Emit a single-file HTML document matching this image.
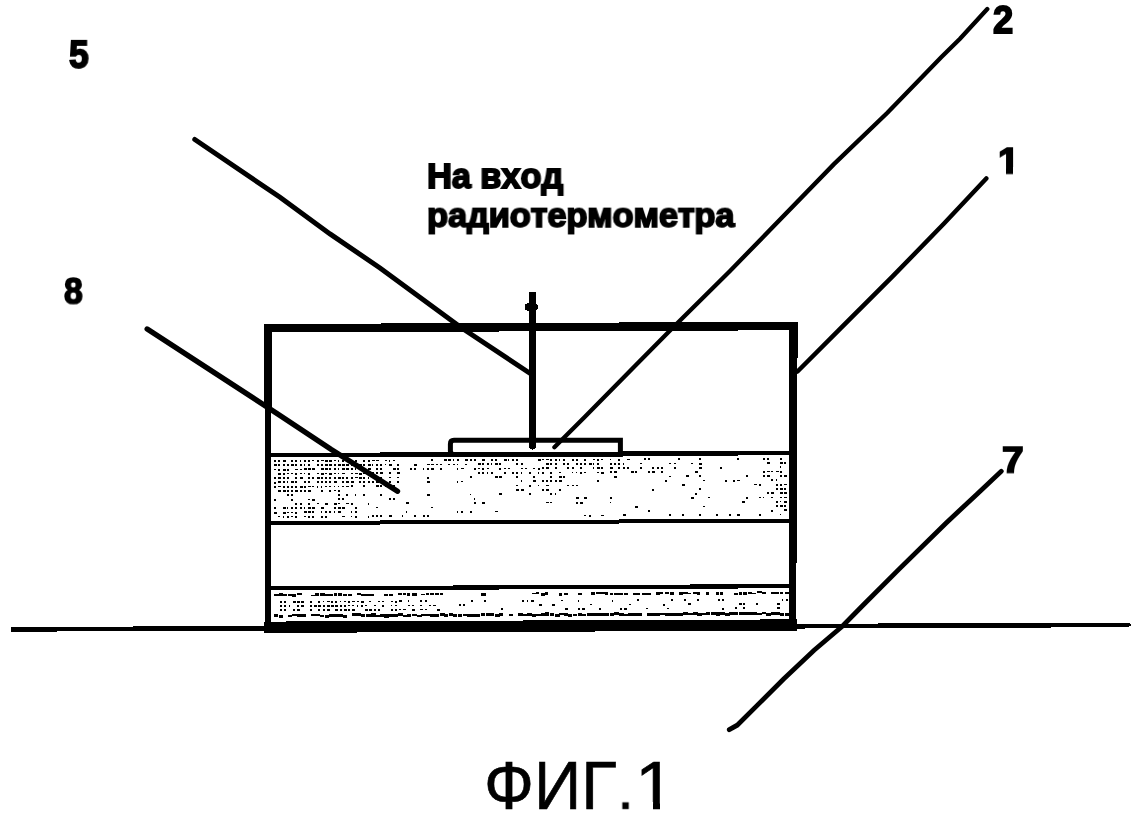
<!DOCTYPE html>
<html lang="ru"><head><meta charset="utf-8"><title>ФИГ.1</title>
<style>
html,body{margin:0;padding:0;background:#fff}
body{font-kerning:none;width:1144px;height:819px;overflow:hidden;position:relative;font-family:"Liberation Sans",sans-serif;color:#000}
svg{position:absolute;left:0;top:0;display:block}
.t{position:absolute;white-space:nowrap;line-height:1;margin:0;transform-origin:0 0;will-change:transform}
.b{font-weight:bold}
.cv{position:absolute;background:#fff}
</style></head><body>
<svg width="1144" height="819" viewBox="0 0 1144 819" fill="#000" shape-rendering="crispEdges">
<polygon points="264,324.00 797.5,321.76 797.5,330.26 264,332.50"/>
<polygon points="264,324 272,324 272,400 271,420 271,632 265,632 265,420 264.3,400"/>
<polygon points="789.2,322 797.7,322 796.2,630 789,630"/>
<polygon points="264,621.60 797,619.36 797,630.66 264,632.90"/>
<polygon points="268,452.98 793,450.78 793,455.28 268,457.48"/>
<polygon points="268,520.98 793,518.78 793,522.78 268,524.98"/>
<polygon points="268,586.28 793,584.08 793,588.28 268,590.48"/>
<polygon points="10.5,627.0 1128,622.5 1132,624.8 1128,627.2 10.5,631.7"/>
<path d="M454,440.3 H620.4 V454.5 H454 Q450.4,454.5 450.4,451 V444 Q450.4,440.3 454,440.3 Z" fill="none" stroke="#000" stroke-width="5" shape-rendering="geometricPrecision"/>
<polygon points="529.3,292 535.8,292 535.8,303 538,305 538,309 535.8,311 535.8,448 532.5,450 529.3,448 529.3,311 525,310 525,304 529.3,303"/>
<polyline points="194.8,139.5 280,197.3 330,233.9 380,268 461,327.5 529.5,373" fill="none" stroke="#000" stroke-width="5.0" stroke-linecap="round" shape-rendering="geometricPrecision"/>
<polyline points="147.2,329 280,415.4 331.3,449.6 397.5,491.2" fill="none" stroke="#000" stroke-width="5.4" stroke-linecap="round" shape-rendering="geometricPrecision"/>
<polyline points="554.4,447.2 583.7,417.9 637.9,362.9 674,326.5 730,271 833.7,164.4 887.4,112.8 941.2,57.2 960,38.8 987.3,9" fill="none" stroke="#000" stroke-width="4.3" stroke-linecap="round" shape-rendering="geometricPrecision"/>
<polyline points="797.5,371.5 841.3,327.7 892.6,276.4 943.8,223.8 986.3,178.5" fill="none" stroke="#000" stroke-width="4.5" stroke-linecap="round" shape-rendering="geometricPrecision"/>
<polyline points="729.3,729.7 737.2,725.2 757.7,704.9 783.4,679.2 814.1,650.2 842.6,626 862,606.3 899.1,569.1 945.9,523.2 977.2,493.9 1001.3,471.3" fill="none" stroke="#000" stroke-width="4.8" stroke-linecap="round" shape-rendering="geometricPrecision"/>
<path d="M274.0,460.0h2.0v1.8h-2.0zM278.2,459.9h1.6v2.0h-1.6zM282.5,459.9h3.2v1.6h-3.2zM291.0,459.9h1.6v1.8h-1.6zM295.2,459.9h2.0v1.6h-2.0zM299.5,459.9h1.6v2.0h-1.6zM303.8,459.8h2.0v2.0h-2.0zM308.0,459.8h1.6v2.0h-1.6zM312.2,459.8h1.6v1.6h-1.6zM316.5,459.8h2.0v1.8h-2.0zM320.8,459.8h3.2v1.6h-3.2zM325.0,459.7h3.2v2.0h-3.2zM329.2,459.7h3.2v2.0h-3.2zM333.5,459.7h2.2v1.6h-2.2zM337.8,459.7h1.6v2.0h-1.6zM342.0,459.7h2.0v1.8h-2.0zM346.2,459.7h2.6v1.8h-2.6zM350.5,459.6h2.6v1.8h-2.6zM354.8,459.6h2.0v2.0h-2.0zM363.2,459.6h2.2v2.0h-2.2zM367.5,459.6h2.2v2.0h-2.2zM371.8,459.5h3.2v1.6h-3.2zM376.0,459.5h2.6v1.6h-2.6zM384.5,459.5h2.6v1.8h-2.6zM388.8,459.5h1.6v2.0h-1.6zM393.0,459.5h2.2v1.8h-2.2zM431.2,459.3h2.2v2.0h-2.2zM444.0,459.2h2.6v2.0h-2.6zM448.2,459.2h2.6v1.8h-2.6zM452.5,459.2h1.6v1.8h-1.6zM456.8,459.2h2.2v1.6h-2.2zM465.2,459.2h2.6v1.6h-2.6zM469.5,459.1h2.6v2.0h-2.6zM473.8,459.1h2.0v1.8h-2.0zM482.2,459.1h2.6v1.8h-2.6zM490.8,459.0h2.0v1.6h-2.0zM495.0,459.0h2.0v1.6h-2.0zM503.5,459.0h3.2v1.6h-3.2zM507.8,459.0h1.6v1.6h-1.6zM512.0,459.0h2.2v2.0h-2.2zM516.2,458.9h2.0v2.0h-2.0zM537.5,458.9h3.2v1.8h-3.2zM541.8,458.8h2.6v1.6h-2.6zM546.0,458.8h2.6v1.6h-2.6zM550.2,458.8h2.0v1.8h-2.0zM554.5,458.8h2.2v2.0h-2.2zM558.8,458.8h1.6v2.0h-1.6zM563.0,458.7h1.6v1.8h-1.6zM571.5,458.7h2.0v2.0h-2.0zM575.8,458.7h2.2v1.8h-2.2zM584.2,458.7h1.6v1.8h-1.6zM592.8,458.6h2.6v1.8h-2.6zM597.0,458.6h1.6v2.0h-1.6zM601.2,458.6h2.2v1.8h-2.2zM609.8,458.5h1.6v1.6h-1.6zM618.2,458.5h2.0v2.0h-2.0zM626.8,458.5h3.2v1.8h-3.2zM643.8,458.4h2.2v1.6h-2.2zM648.0,458.4h2.0v2.0h-2.0zM677.8,458.3h2.0v1.8h-2.0zM699.0,458.2h1.6v1.8h-1.6zM737.2,458.0h1.6v1.6h-1.6zM762.8,457.9h2.2v2.0h-2.2zM767.0,457.9h1.6v1.8h-1.6zM779.8,457.8h2.0v1.8h-2.0zM274.0,464.3h2.6v1.8h-2.6zM278.2,464.2h1.6v2.0h-1.6zM282.5,464.2h2.0v1.6h-2.0zM286.8,464.2h2.6v2.0h-2.6zM291.0,464.2h3.2v1.8h-3.2zM295.2,464.2h2.2v1.6h-2.2zM299.5,464.2h2.0v1.6h-2.0zM303.8,464.1h1.6v2.0h-1.6zM308.0,464.1h2.0v1.8h-2.0zM316.5,464.1h2.0v1.6h-2.0zM320.8,464.1h2.2v2.0h-2.2zM325.0,464.0h3.2v1.8h-3.2zM329.2,464.0h2.6v1.6h-2.6zM333.5,464.0h2.2v1.8h-2.2zM337.8,464.0h3.2v1.8h-3.2zM342.0,464.0h3.2v1.6h-3.2zM346.2,464.0h3.2v2.0h-3.2zM350.5,463.9h2.6v1.6h-2.6zM354.8,463.9h2.0v1.6h-2.0zM359.0,463.9h3.2v2.0h-3.2zM363.2,463.9h1.6v1.8h-1.6zM367.5,463.9h3.2v2.0h-3.2zM371.8,463.8h1.6v2.0h-1.6zM376.0,463.8h2.0v1.8h-2.0zM380.2,463.8h1.6v2.0h-1.6zM384.5,463.8h1.6v1.6h-1.6zM388.8,463.8h3.2v2.0h-3.2zM397.2,463.7h2.2v1.8h-2.2zM414.2,463.7h3.2v1.8h-3.2zM427.0,463.6h2.6v1.6h-2.6zM431.2,463.6h2.6v1.8h-2.6zM435.5,463.6h2.0v1.8h-2.0zM439.8,463.6h2.2v1.6h-2.2zM448.2,463.5h2.2v1.6h-2.2zM452.5,463.5h2.0v1.8h-2.0zM456.8,463.5h1.6v1.8h-1.6zM465.2,463.5h2.0v1.6h-2.0zM478.0,463.4h2.6v1.6h-2.6zM482.2,463.4h1.6v2.0h-1.6zM486.5,463.4h2.2v2.0h-2.2zM490.8,463.3h1.6v1.8h-1.6zM495.0,463.3h3.2v1.8h-3.2zM499.2,463.3h1.6v1.6h-1.6zM516.2,463.2h2.2v1.8h-2.2zM520.5,463.2h2.0v1.8h-2.0zM546.0,463.1h3.2v2.0h-3.2zM550.2,463.1h2.2v1.6h-2.2zM554.5,463.1h2.0v1.8h-2.0zM563.0,463.0h1.6v2.0h-1.6zM567.2,463.0h2.2v1.6h-2.2zM575.8,463.0h2.2v1.6h-2.2zM580.0,463.0h2.2v2.0h-2.2zM584.2,463.0h2.2v2.0h-2.2zM588.5,462.9h3.2v2.0h-3.2zM592.8,462.9h1.6v1.6h-1.6zM597.0,462.9h2.0v1.6h-2.0zM609.8,462.8h2.0v1.8h-2.0zM614.0,462.8h2.0v1.8h-2.0zM618.2,462.8h1.6v1.8h-1.6zM622.5,462.8h1.6v2.0h-1.6zM639.5,462.7h2.6v1.6h-2.6zM669.2,462.6h2.0v1.6h-2.0zM673.5,462.6h2.0v1.8h-2.0zM690.5,462.5h2.2v1.8h-2.2zM699.0,462.5h2.6v2.0h-2.6zM767.0,462.2h2.6v1.6h-2.6zM779.8,462.1h3.2v1.6h-3.2zM784.0,462.1h1.6v1.6h-1.6zM274.0,468.6h1.6v1.8h-1.6zM278.2,468.5h2.2v2.0h-2.2zM282.5,468.5h3.2v2.0h-3.2zM286.8,468.5h2.0v2.0h-2.0zM295.2,468.5h3.2v1.8h-3.2zM299.5,468.5h2.6v1.6h-2.6zM303.8,468.4h3.2v2.0h-3.2zM308.0,468.4h3.2v2.0h-3.2zM312.2,468.4h3.2v1.6h-3.2zM320.8,468.4h3.2v1.6h-3.2zM325.0,468.3h3.2v2.0h-3.2zM329.2,468.3h2.0v1.6h-2.0zM333.5,468.3h2.0v2.0h-2.0zM337.8,468.3h1.6v1.8h-1.6zM342.0,468.3h3.2v1.6h-3.2zM346.2,468.3h3.2v2.0h-3.2zM350.5,468.2h2.2v1.6h-2.2zM354.8,468.2h1.6v2.0h-1.6zM367.5,468.2h3.2v1.6h-3.2zM376.0,468.1h1.6v1.8h-1.6zM380.2,468.1h2.0v1.6h-2.0zM393.0,468.1h2.6v1.6h-2.6zM397.2,468.0h2.2v1.6h-2.2zM410.0,468.0h2.0v1.8h-2.0zM414.2,468.0h2.2v2.0h-2.2zM422.8,467.9h1.6v1.8h-1.6zM427.0,467.9h1.6v2.0h-1.6zM431.2,467.9h2.6v1.8h-2.6zM439.8,467.9h2.6v1.8h-2.6zM456.8,467.8h1.6v1.8h-1.6zM461.0,467.8h2.6v1.6h-2.6zM473.8,467.7h2.2v1.8h-2.2zM478.0,467.7h2.0v1.6h-2.0zM482.2,467.7h2.0v2.0h-2.0zM486.5,467.7h2.2v1.6h-2.2zM499.2,467.6h1.6v2.0h-1.6zM503.5,467.6h2.6v1.8h-2.6zM507.8,467.6h2.0v1.6h-2.0zM520.5,467.5h2.0v1.8h-2.0zM524.8,467.5h2.2v1.6h-2.2zM533.2,467.5h2.2v1.8h-2.2zM537.5,467.5h2.0v2.0h-2.0zM541.8,467.4h2.2v1.8h-2.2zM546.0,467.4h2.6v1.8h-2.6zM554.5,467.4h2.2v1.8h-2.2zM567.2,467.3h1.6v2.0h-1.6zM571.5,467.3h2.0v1.6h-2.0zM580.0,467.3h2.2v1.6h-2.2zM592.8,467.2h1.6v2.0h-1.6zM597.0,467.2h3.2v2.0h-3.2zM601.2,467.2h1.6v1.6h-1.6zM609.8,467.1h3.2v1.6h-3.2zM618.2,467.1h1.6v2.0h-1.6zM622.5,467.1h2.6v1.8h-2.6zM626.8,467.1h2.2v1.8h-2.2zM639.5,467.0h2.0v1.8h-2.0zM652.2,467.0h2.0v1.6h-2.0zM656.5,467.0h2.6v2.0h-2.6zM660.8,466.9h2.2v1.8h-2.2zM673.5,466.9h2.0v1.8h-2.0zM699.0,466.8h2.6v1.8h-2.6zM720.2,466.7h2.2v2.0h-2.2zM779.8,466.4h1.6v1.8h-1.6zM278.2,472.8h3.2v1.8h-3.2zM282.5,472.8h2.6v2.0h-2.6zM286.8,472.8h2.6v1.6h-2.6zM291.0,472.8h2.0v1.6h-2.0zM295.2,472.8h1.6v2.0h-1.6zM299.5,472.8h2.6v1.6h-2.6zM303.8,472.7h1.6v1.6h-1.6zM308.0,472.7h2.0v2.0h-2.0zM316.5,472.7h2.2v1.6h-2.2zM320.8,472.7h3.2v2.0h-3.2zM325.0,472.6h1.6v1.6h-1.6zM329.2,472.6h3.2v2.0h-3.2zM333.5,472.6h2.2v1.6h-2.2zM337.8,472.6h1.6v1.6h-1.6zM342.0,472.6h2.6v1.8h-2.6zM350.5,472.5h2.0v1.8h-2.0zM354.8,472.5h3.2v1.6h-3.2zM359.0,472.5h2.6v2.0h-2.6zM363.2,472.5h1.6v1.6h-1.6zM367.5,472.5h2.6v1.6h-2.6zM371.8,472.4h2.6v1.8h-2.6zM376.0,472.4h1.6v2.0h-1.6zM380.2,472.4h2.6v1.8h-2.6zM388.8,472.4h2.2v2.0h-2.2zM397.2,472.3h2.6v1.6h-2.6zM478.0,472.0h1.6v1.6h-1.6zM482.2,472.0h2.2v2.0h-2.2zM486.5,472.0h1.6v1.6h-1.6zM490.8,471.9h2.0v2.0h-2.0zM503.5,471.9h2.6v1.8h-2.6zM512.0,471.9h1.6v1.6h-1.6zM516.2,471.8h1.6v1.8h-1.6zM520.5,471.8h1.6v2.0h-1.6zM529.0,471.8h2.2v1.8h-2.2zM537.5,471.8h1.6v2.0h-1.6zM541.8,471.7h2.2v2.0h-2.2zM550.2,471.7h2.2v2.0h-2.2zM558.8,471.7h2.6v1.6h-2.6zM571.5,471.6h1.6v1.8h-1.6zM575.8,471.6h1.6v1.8h-1.6zM580.0,471.6h1.6v2.0h-1.6zM584.2,471.6h2.2v1.8h-2.2zM597.0,471.5h2.2v1.8h-2.2zM601.2,471.5h3.2v2.0h-3.2zM609.8,471.4h2.0v1.6h-2.0zM614.0,471.4h2.6v1.8h-2.6zM631.0,471.4h2.6v1.6h-2.6zM635.2,471.3h2.2v2.0h-2.2zM648.0,471.3h2.2v1.8h-2.2zM652.2,471.3h3.2v1.6h-3.2zM660.8,471.2h2.0v1.6h-2.0zM694.8,471.1h3.2v1.6h-3.2zM762.8,470.8h2.2v2.0h-2.2zM767.0,470.8h2.6v1.6h-2.6zM771.2,470.8h2.0v1.6h-2.0zM775.5,470.8h3.2v1.6h-3.2zM779.8,470.7h2.6v1.8h-2.6zM274.0,477.2h2.0v2.0h-2.0zM278.2,477.1h2.6v1.6h-2.6zM282.5,477.1h2.6v1.6h-2.6zM286.8,477.1h2.2v1.6h-2.2zM295.2,477.1h1.6v1.6h-1.6zM299.5,477.1h3.2v1.6h-3.2zM308.0,477.0h2.0v1.8h-2.0zM312.2,477.0h1.6v1.6h-1.6zM316.5,477.0h3.2v1.8h-3.2zM320.8,477.0h2.2v1.8h-2.2zM325.0,476.9h2.0v1.8h-2.0zM329.2,476.9h2.0v1.6h-2.0zM333.5,476.9h2.6v2.0h-2.6zM337.8,476.9h3.2v1.8h-3.2zM342.0,476.9h1.6v1.8h-1.6zM346.2,476.9h1.6v1.8h-1.6zM350.5,476.8h2.6v2.0h-2.6zM354.8,476.8h3.2v1.6h-3.2zM359.0,476.8h2.6v2.0h-2.6zM363.2,476.8h2.2v2.0h-2.2zM367.5,476.8h1.6v1.8h-1.6zM380.2,476.7h1.6v1.8h-1.6zM388.8,476.7h2.6v1.6h-2.6zM397.2,476.6h2.0v1.8h-2.0zM427.0,476.5h2.0v2.0h-2.0zM469.5,476.3h2.6v1.8h-2.6zM495.0,476.2h2.6v1.8h-2.6zM499.2,476.2h2.6v1.6h-2.6zM516.2,476.1h2.0v2.0h-2.0zM533.2,476.1h2.0v1.6h-2.0zM550.2,476.0h2.0v2.0h-2.0zM558.8,476.0h3.2v2.0h-3.2zM563.0,475.9h2.2v1.6h-2.2zM614.0,475.7h2.6v1.8h-2.6zM669.2,475.5h2.0v1.6h-2.0zM686.2,475.4h3.2v1.8h-3.2zM699.0,475.4h1.6v2.0h-1.6zM745.8,475.2h2.2v2.0h-2.2zM762.8,475.1h2.6v1.6h-2.6zM767.0,475.1h2.6v1.6h-2.6zM779.8,475.0h2.2v1.6h-2.2zM784.0,475.0h2.6v1.6h-2.6zM274.0,481.5h2.2v2.0h-2.2zM278.2,481.4h2.6v1.6h-2.6zM282.5,481.4h2.2v1.6h-2.2zM286.8,481.4h1.6v2.0h-1.6zM291.0,481.4h2.6v2.0h-2.6zM295.2,481.4h1.6v1.8h-1.6zM303.8,481.3h2.6v2.0h-2.6zM308.0,481.3h2.2v1.8h-2.2zM316.5,481.3h2.2v1.8h-2.2zM320.8,481.3h2.6v1.6h-2.6zM325.0,481.2h1.6v1.8h-1.6zM329.2,481.2h2.2v1.8h-2.2zM333.5,481.2h3.2v2.0h-3.2zM342.0,481.2h1.6v1.6h-1.6zM346.2,481.2h3.2v2.0h-3.2zM350.5,481.1h3.2v1.8h-3.2zM359.0,481.1h2.0v2.0h-2.0zM363.2,481.1h1.6v1.6h-1.6zM367.5,481.1h2.2v1.8h-2.2zM371.8,481.0h2.2v2.0h-2.2zM376.0,481.0h3.2v1.8h-3.2zM380.2,481.0h2.0v1.8h-2.0zM388.8,481.0h2.0v1.6h-2.0zM397.2,480.9h2.0v1.8h-2.0zM427.0,480.8h3.2v1.8h-3.2zM456.8,480.7h1.6v2.0h-1.6zM461.0,480.7h2.0v1.6h-2.0zM520.5,480.4h1.6v2.0h-1.6zM533.2,480.4h2.6v2.0h-2.6zM541.8,480.3h2.6v1.6h-2.6zM546.0,480.3h1.6v1.8h-1.6zM550.2,480.3h1.6v1.6h-1.6zM554.5,480.3h2.2v2.0h-2.2zM558.8,480.3h3.2v2.0h-3.2zM597.0,480.1h2.2v1.6h-2.2zM665.0,479.8h1.6v1.8h-1.6zM703.2,479.7h1.6v1.6h-1.6zM724.5,479.6h2.0v2.0h-2.0zM733.0,479.5h1.6v2.0h-1.6zM737.2,479.5h3.2v1.8h-3.2zM771.2,479.4h2.0v1.6h-2.0zM775.5,479.4h1.6v1.6h-1.6zM274.0,485.8h1.6v2.0h-1.6zM278.2,485.7h2.6v1.6h-2.6zM282.5,485.7h2.0v1.8h-2.0zM286.8,485.7h2.6v1.8h-2.6zM291.0,485.7h2.2v1.8h-2.2zM295.2,485.7h2.2v1.8h-2.2zM299.5,485.7h3.2v2.0h-3.2zM303.8,485.6h2.2v2.0h-2.2zM308.0,485.6h2.6v1.6h-2.6zM312.2,485.6h1.6v1.8h-1.6zM316.5,485.6h1.6v2.0h-1.6zM320.8,485.6h1.6v2.0h-1.6zM325.0,485.5h2.0v1.8h-2.0zM329.2,485.5h2.0v1.8h-2.0zM333.5,485.5h1.6v1.6h-1.6zM337.8,485.5h1.6v1.8h-1.6zM342.0,485.5h2.0v1.8h-2.0zM346.2,485.5h3.2v1.8h-3.2zM350.5,485.4h2.0v1.8h-2.0zM363.2,485.4h2.0v1.6h-2.0zM376.0,485.3h3.2v1.6h-3.2zM380.2,485.3h2.2v1.6h-2.2zM384.5,485.3h2.6v2.0h-2.6zM388.8,485.3h1.6v1.8h-1.6zM393.0,485.3h2.2v1.8h-2.2zM516.2,484.7h2.0v1.6h-2.0zM529.0,484.7h2.0v1.8h-2.0zM537.5,484.7h1.6v1.6h-1.6zM546.0,484.6h2.6v1.6h-2.6zM567.2,484.5h1.6v1.8h-1.6zM571.5,484.5h2.6v1.8h-2.6zM575.8,484.5h2.6v1.8h-2.6zM682.0,484.0h2.6v1.6h-2.6zM754.2,483.7h3.2v1.6h-3.2zM758.5,483.7h2.0v2.0h-2.0zM775.5,483.7h2.6v2.0h-2.6zM779.8,483.6h2.2v2.0h-2.2zM784.0,483.6h2.6v1.6h-2.6zM278.2,490.0h3.2v1.6h-3.2zM282.5,490.0h3.2v1.8h-3.2zM286.8,490.0h2.2v1.8h-2.2zM291.0,490.0h1.6v1.6h-1.6zM295.2,490.0h2.6v2.0h-2.6zM299.5,490.0h2.2v2.0h-2.2zM303.8,489.9h2.0v1.8h-2.0zM308.0,489.9h3.2v1.6h-3.2zM320.8,489.9h2.0v1.6h-2.0zM329.2,489.8h2.0v1.8h-2.0zM333.5,489.8h2.0v1.6h-2.0zM337.8,489.8h2.6v1.8h-2.6zM516.2,489.0h2.6v2.0h-2.6zM520.5,489.0h3.2v1.6h-3.2zM541.8,488.9h2.0v2.0h-2.0zM546.0,488.9h2.6v2.0h-2.6zM558.8,488.9h2.0v1.6h-2.0zM652.2,488.5h1.6v2.0h-1.6zM699.0,488.3h2.2v1.8h-2.2zM775.5,488.0h2.2v2.0h-2.2zM779.8,487.9h3.2v2.0h-3.2zM784.0,487.9h1.6v1.8h-1.6zM286.8,494.3h2.2v1.6h-2.2zM291.0,494.3h2.0v1.8h-2.0zM337.8,494.1h2.6v2.0h-2.6zM346.2,494.1h2.0v1.6h-2.0zM354.8,494.0h1.6v1.8h-1.6zM363.2,494.0h2.2v2.0h-2.2zM380.2,493.9h1.6v1.8h-1.6zM427.0,493.7h2.6v2.0h-2.6zM469.5,493.5h1.6v1.6h-1.6zM499.2,493.4h3.2v1.6h-3.2zM529.0,493.3h1.6v1.8h-1.6zM550.2,493.2h1.6v2.0h-1.6zM554.5,493.2h1.6v1.6h-1.6zM694.8,492.6h2.0v2.0h-2.0zM767.0,492.3h2.0v2.0h-2.0zM771.2,492.3h3.2v2.0h-3.2zM779.8,492.2h3.2v1.6h-3.2zM784.0,492.2h2.6v1.8h-2.6zM274.0,498.7h2.0v1.8h-2.0zM291.0,498.6h2.2v2.0h-2.2zM308.0,498.5h2.2v1.6h-2.2zM312.2,498.5h3.2v2.0h-3.2zM337.8,498.4h2.0v1.6h-2.0zM342.0,498.4h2.2v1.8h-2.2zM388.8,498.2h2.2v2.0h-2.2zM393.0,498.2h2.2v2.0h-2.2zM473.8,497.8h1.6v2.0h-1.6zM575.8,497.4h3.2v1.6h-3.2zM584.2,497.4h3.2v2.0h-3.2zM609.8,497.2h2.0v2.0h-2.0zM690.5,496.9h3.2v1.8h-3.2zM707.5,496.8h2.6v1.6h-2.6zM745.8,496.7h2.6v2.0h-2.6zM758.5,496.6h2.6v1.8h-2.6zM762.8,496.6h1.6v1.8h-1.6zM771.2,496.6h2.0v1.8h-2.0zM779.8,496.5h2.6v1.6h-2.6zM784.0,496.5h3.2v1.6h-3.2zM295.2,502.9h2.0v1.8h-2.0zM299.5,502.9h2.2v1.6h-2.2zM308.0,502.8h2.2v1.8h-2.2zM316.5,502.8h2.2v1.6h-2.2zM325.0,502.7h3.2v1.8h-3.2zM333.5,502.7h3.2v1.8h-3.2zM337.8,502.7h2.6v1.6h-2.6zM346.2,502.7h3.2v1.6h-3.2zM350.5,502.6h2.0v2.0h-2.0zM367.5,502.6h1.6v2.0h-1.6zM405.8,502.4h3.2v1.8h-3.2zM473.8,502.1h2.2v2.0h-2.2zM482.2,502.1h3.2v1.8h-3.2zM546.0,501.8h3.2v1.6h-3.2zM550.2,501.8h1.6v1.6h-1.6zM575.8,501.7h2.0v1.8h-2.0zM580.0,501.7h3.2v2.0h-3.2zM609.8,501.5h1.6v1.8h-1.6zM741.5,501.0h3.2v1.6h-3.2zM775.5,500.9h2.6v1.6h-2.6zM779.8,500.8h1.6v1.6h-1.6zM784.0,500.8h2.6v1.8h-2.6zM274.0,507.3h1.6v1.6h-1.6zM282.5,507.2h3.2v1.8h-3.2zM286.8,507.2h1.6v2.0h-1.6zM291.0,507.2h1.6v2.0h-1.6zM295.2,507.2h2.0v1.6h-2.0zM299.5,507.2h2.2v1.8h-2.2zM303.8,507.1h1.6v1.6h-1.6zM308.0,507.1h3.2v1.8h-3.2zM312.2,507.1h3.2v2.0h-3.2zM320.8,507.1h3.2v1.6h-3.2zM333.5,507.0h2.2v1.6h-2.2zM337.8,507.0h3.2v1.8h-3.2zM342.0,507.0h3.2v2.0h-3.2zM354.8,506.9h2.2v1.8h-2.2zM376.0,506.8h2.2v1.6h-2.2zM431.2,506.6h1.6v1.6h-1.6zM635.2,505.7h2.6v1.8h-2.6zM703.2,505.5h1.6v1.8h-1.6zM775.5,505.2h2.2v2.0h-2.2zM779.8,505.1h3.2v2.0h-3.2zM784.0,505.1h2.0v1.8h-2.0zM274.0,511.6h2.6v2.0h-2.6zM282.5,511.5h3.2v2.0h-3.2zM286.8,511.5h2.0v1.8h-2.0zM291.0,511.5h1.6v1.8h-1.6zM295.2,511.5h1.6v2.0h-1.6zM303.8,511.4h3.2v1.8h-3.2zM308.0,511.4h3.2v1.8h-3.2zM312.2,511.4h2.0v2.0h-2.0zM320.8,511.4h1.6v2.0h-1.6zM325.0,511.3h1.6v1.8h-1.6zM329.2,511.3h1.6v2.0h-1.6zM333.5,511.3h1.6v1.8h-1.6zM337.8,511.3h3.2v1.6h-3.2zM350.5,511.2h1.6v2.0h-1.6zM354.8,511.2h2.0v1.8h-2.0zM405.8,511.0h1.6v1.6h-1.6zM456.8,510.8h1.6v2.0h-1.6zM461.0,510.8h2.0v1.8h-2.0zM469.5,510.7h2.0v1.8h-2.0zM495.0,510.6h3.2v1.6h-3.2zM648.0,510.0h1.6v1.8h-1.6zM771.2,509.5h1.6v2.0h-1.6zM784.0,509.4h2.6v1.6h-2.6zM278.2,515.8h2.2v1.6h-2.2zM282.5,515.8h1.6v2.0h-1.6zM286.8,515.8h2.0v1.8h-2.0zM291.0,515.8h1.6v1.6h-1.6zM295.2,515.8h2.2v2.0h-2.2zM303.8,515.7h2.2v1.6h-2.2zM308.0,515.7h2.0v2.0h-2.0zM312.2,515.7h2.2v1.8h-2.2zM320.8,515.7h2.0v1.8h-2.0zM325.0,515.6h2.2v2.0h-2.2zM342.0,515.6h2.6v1.6h-2.6zM350.5,515.5h1.6v1.6h-1.6zM354.8,515.5h2.2v2.0h-2.2zM367.5,515.5h1.6v2.0h-1.6zM371.8,515.4h2.0v1.8h-2.0zM376.0,515.4h1.6v2.0h-1.6zM380.2,515.4h2.0v2.0h-2.0zM388.8,515.4h3.2v1.8h-3.2zM401.5,515.3h1.6v1.6h-1.6zM414.2,515.3h1.6v2.0h-1.6zM422.8,515.2h2.0v2.0h-2.0zM427.0,515.2h2.2v1.6h-2.2zM584.2,514.6h2.2v1.6h-2.2zM588.5,514.5h2.6v2.0h-2.6zM601.2,514.5h2.6v1.6h-2.6zM622.5,514.4h3.2v1.6h-3.2zM669.2,514.2h2.2v1.6h-2.2zM682.0,514.1h2.2v1.8h-2.2zM699.0,514.1h2.2v1.8h-2.2zM716.0,514.0h1.6v1.8h-1.6zM728.8,513.9h2.2v2.0h-2.2zM737.2,513.9h2.6v1.8h-2.6zM758.5,513.8h2.2v2.0h-2.2zM779.8,513.7h1.6v1.6h-1.6zM274.0,593.7h4.6v2.2h-4.6zM278.6,593.2h4.6v2.6h-4.6zM283.2,593.8h4.0v2.6h-4.0zM287.8,593.5h4.0v2.2h-4.0zM292.4,594.3h4.0v2.2h-4.0zM297.0,593.4h4.6v1.8h-4.6zM310.8,594.5h4.0v1.8h-4.0zM315.4,593.0h4.0v2.6h-4.0zM320.0,592.9h4.6v2.6h-4.6zM324.6,593.8h4.0v1.8h-4.0zM329.2,594.3h4.0v1.8h-4.0zM333.8,593.2h3.0v2.6h-3.0zM338.4,593.3h4.0v2.6h-4.0zM343.0,593.8h4.0v1.8h-4.0zM347.6,593.7h4.6v1.8h-4.6zM356.8,592.8h4.0v2.6h-4.0zM361.4,593.5h4.6v2.6h-4.6zM366.0,593.7h4.6v1.8h-4.6zM370.6,593.8h3.0v2.6h-3.0zM384.4,593.9h4.0v1.8h-4.0zM389.0,593.5h4.0v2.2h-4.0zM398.2,592.6h4.0v2.6h-4.0zM402.8,592.5h3.0v2.6h-3.0zM407.4,593.0h3.0v2.6h-3.0zM412.0,592.9h4.6v2.6h-4.6zM421.2,593.5h4.0v1.8h-4.0zM425.8,593.0h3.0v1.8h-3.0zM430.4,593.0h4.0v1.8h-4.0zM435.0,593.4h4.0v1.8h-4.0zM439.6,593.4h3.0v1.8h-3.0zM481.0,592.9h4.6v2.6h-4.6zM531.6,592.5h4.6v1.8h-4.6zM536.2,592.3h3.0v1.8h-3.0zM540.8,593.2h4.0v2.6h-4.0zM545.4,592.0h3.0v2.6h-3.0zM559.2,593.0h3.0v2.6h-3.0zM563.8,593.1h4.6v2.2h-4.6zM577.6,592.6h4.6v2.2h-4.6zM591.4,592.1h4.0v2.6h-4.0zM596.0,591.8h4.6v2.6h-4.6zM600.6,592.1h4.0v2.2h-4.0zM605.2,592.2h3.0v2.6h-3.0zM609.8,593.1h3.0v1.8h-3.0zM614.4,593.0h4.6v2.2h-4.6zM619.0,592.7h4.0v1.8h-4.0zM623.6,592.6h4.0v2.6h-4.0zM632.8,593.0h4.0v2.2h-4.0zM637.4,593.0h3.0v1.8h-3.0zM642.0,592.6h4.6v2.6h-4.6zM646.6,592.9h4.6v2.2h-4.6zM655.8,592.1h4.0v2.6h-4.0zM660.4,592.2h3.0v1.8h-3.0zM665.0,592.0h4.0v1.8h-4.0zM669.6,592.3h4.0v2.2h-4.0zM678.8,592.3h4.0v2.2h-4.0zM683.4,592.3h4.6v1.8h-4.6zM688.0,592.6h3.0v1.8h-3.0zM692.6,591.5h4.0v2.2h-4.0zM697.2,591.9h3.0v2.6h-3.0zM706.4,592.4h3.0v2.6h-3.0zM715.6,591.9h3.0v2.6h-3.0zM720.2,592.4h3.0v2.2h-3.0zM734.0,592.6h4.0v2.2h-4.0zM738.6,592.2h3.0v2.6h-3.0zM743.2,592.0h4.0v2.6h-4.0zM747.8,592.1h4.0v2.2h-4.0zM752.4,592.5h4.0v1.8h-4.0zM757.0,591.3h4.6v1.8h-4.6zM761.6,591.7h4.0v2.2h-4.0zM770.8,591.7h4.0v1.8h-4.0zM775.4,591.6h4.0v2.6h-4.0zM780.0,592.0h3.0v1.8h-3.0zM784.6,591.8h4.0v2.2h-4.0zM274.0,614.0h4.0v3.4h-4.0zM278.6,614.8h4.6v3.0h-4.6zM287.8,614.7h4.0v2.4h-4.0zM292.4,613.8h4.6v2.4h-4.6zM297.0,613.7h5.0v3.4h-5.0zM301.6,614.1h4.0v2.4h-4.0zM310.8,613.8h5.0v2.4h-5.0zM315.4,613.7h4.6v2.4h-4.6zM320.0,614.6h4.0v2.4h-4.0zM324.6,614.6h4.0v3.0h-4.0zM329.2,614.2h4.6v3.0h-4.6zM333.8,614.4h4.0v3.0h-4.0zM338.4,614.4h5.0v3.0h-5.0zM343.0,614.5h4.0v3.0h-4.0zM352.2,613.3h5.0v3.0h-5.0zM356.8,613.4h4.0v3.0h-4.0zM361.4,614.2h4.0v2.4h-4.0zM366.0,613.8h5.0v3.0h-5.0zM370.6,613.2h5.0v3.4h-5.0zM375.2,614.5h4.6v2.4h-4.6zM379.8,614.2h5.0v3.0h-5.0zM384.4,614.3h4.6v3.4h-4.6zM389.0,613.8h4.6v3.0h-4.6zM393.6,614.1h4.0v2.4h-4.0zM398.2,613.2h5.0v3.0h-5.0zM402.8,614.6h5.0v2.4h-5.0zM407.4,614.1h4.0v2.4h-4.0zM412.0,613.6h5.0v2.4h-5.0zM416.6,614.5h5.0v2.4h-5.0zM421.2,614.0h4.6v2.4h-4.6zM425.8,613.8h4.6v2.4h-4.6zM430.4,614.2h4.6v3.0h-4.6zM435.0,614.0h4.0v3.0h-4.0zM439.6,612.7h5.0v3.4h-5.0zM444.2,613.9h4.0v3.4h-4.0zM448.8,613.4h4.6v3.0h-4.6zM453.4,613.8h4.0v3.4h-4.0zM458.0,613.8h4.0v3.0h-4.0zM462.6,613.5h4.6v2.4h-4.6zM467.2,614.0h4.6v3.0h-4.6zM471.8,613.6h4.6v3.4h-4.6zM476.4,614.0h4.0v3.0h-4.0zM481.0,612.8h4.0v3.0h-4.0zM485.6,613.2h5.0v2.4h-5.0zM490.2,612.9h4.0v3.0h-4.0zM494.8,614.1h5.0v2.4h-5.0zM499.4,612.9h4.0v3.0h-4.0zM508.6,614.0h4.0v2.4h-4.0zM517.8,612.7h5.0v3.0h-5.0zM522.4,613.5h4.6v2.4h-4.6zM527.0,613.4h5.0v3.0h-5.0zM531.6,613.8h4.0v3.0h-4.0zM536.2,613.9h5.0v2.4h-5.0zM540.8,613.4h4.0v2.4h-4.0zM545.4,612.4h4.0v3.4h-4.0zM550.0,612.5h4.0v3.0h-4.0zM554.6,613.7h5.0v3.0h-5.0zM559.2,613.0h5.0v2.4h-5.0zM563.8,612.9h4.0v3.4h-4.0zM568.4,613.7h4.0v3.0h-4.0zM573.0,613.8h4.0v2.4h-4.0zM577.6,613.3h4.0v3.0h-4.0zM582.2,613.9h4.0v2.4h-4.0zM586.8,613.3h4.6v3.0h-4.6zM591.4,613.2h5.0v3.0h-5.0zM596.0,613.0h5.0v3.0h-5.0zM600.6,613.0h4.6v3.4h-4.6zM605.2,612.6h4.0v3.4h-4.0zM609.8,613.4h4.0v3.0h-4.0zM614.4,611.9h5.0v3.4h-5.0zM619.0,613.1h5.0v3.0h-5.0zM623.6,613.5h5.0v2.4h-5.0zM628.2,613.0h5.0v3.4h-5.0zM632.8,612.6h5.0v3.4h-5.0zM637.4,612.8h4.6v3.4h-4.6zM646.6,612.7h4.6v3.4h-4.6zM651.2,612.5h4.6v3.4h-4.6zM655.8,612.9h4.6v3.4h-4.6zM660.4,612.8h5.0v2.4h-5.0zM665.0,612.7h4.6v3.4h-4.6zM669.6,612.6h5.0v3.4h-5.0zM674.2,613.1h4.6v3.0h-4.6zM678.8,612.6h4.6v3.0h-4.6zM683.4,612.2h5.0v2.4h-5.0zM688.0,612.9h4.6v2.4h-4.6zM692.6,612.3h5.0v2.4h-5.0zM697.2,612.9h5.0v3.4h-5.0zM701.8,612.5h4.6v2.4h-4.6zM706.4,611.9h4.0v3.0h-4.0zM711.0,611.9h4.6v3.0h-4.6zM715.6,612.2h4.6v3.4h-4.6zM720.2,612.2h4.6v3.0h-4.6zM724.8,612.6h5.0v3.0h-5.0zM729.4,611.7h5.0v3.4h-5.0zM734.0,612.4h4.0v3.0h-4.0zM738.6,611.9h4.6v3.4h-4.6zM743.2,611.7h5.0v3.4h-5.0zM747.8,611.6h5.0v3.4h-5.0zM752.4,611.9h4.6v3.0h-4.6zM757.0,612.6h4.6v2.4h-4.6zM761.6,612.0h4.6v2.4h-4.6zM766.2,612.8h5.0v3.0h-5.0zM770.8,611.5h4.6v3.0h-4.6zM775.4,612.4h4.6v3.0h-4.6zM780.0,612.6h4.0v3.0h-4.0zM784.6,613.1h5.0v2.4h-5.0zM280.0,600.9h1.8v1.6h-1.8zM284.2,600.9h1.8v1.6h-1.8zM292.8,600.9h2.8v2.0h-2.8zM297.0,600.9h2.8v1.6h-2.8zM301.2,600.8h2.8v2.0h-2.8zM309.8,600.8h2.2v2.0h-2.2zM318.2,600.8h1.8v2.0h-1.8zM322.5,600.8h1.8v1.6h-1.8zM326.8,600.7h2.8v1.6h-2.8zM331.0,600.7h1.8v2.0h-1.8zM335.2,600.7h2.2v2.0h-2.2zM339.5,600.7h1.8v1.6h-1.8zM343.8,600.7h1.8v1.6h-1.8zM348.0,600.6h1.8v2.0h-1.8zM352.2,600.6h2.8v1.6h-2.8zM356.5,600.6h2.2v1.6h-2.2zM360.8,600.6h2.8v2.0h-2.8zM369.2,600.6h2.2v1.6h-2.2zM377.8,600.5h2.2v1.6h-2.2zM382.0,600.5h1.8v1.6h-1.8zM390.5,600.5h2.2v1.6h-2.2zM394.8,600.5h2.2v2.0h-2.2zM399.0,600.4h2.8v2.0h-2.8zM407.5,600.4h1.8v2.0h-1.8zM420.2,600.3h1.8v1.6h-1.8zM424.5,600.3h2.8v2.0h-2.8zM471.2,600.1h1.8v2.0h-1.8zM484.0,600.1h1.8v2.0h-1.8zM522.2,599.9h2.2v1.6h-2.2zM526.5,599.9h1.8v2.0h-1.8zM530.8,599.9h2.8v1.6h-2.8zM560.5,599.8h2.8v1.6h-2.8zM577.5,599.7h1.8v2.0h-1.8zM611.5,599.5h1.8v2.0h-1.8zM637.0,599.4h2.2v2.0h-2.2zM671.0,599.3h2.2v1.6h-2.2zM683.8,599.2h1.8v1.6h-1.8zM696.5,599.2h2.2v1.6h-2.2zM717.8,599.1h2.2v2.0h-2.2zM722.0,599.1h2.2v1.6h-2.2zM781.5,598.8h1.8v2.0h-1.8zM785.8,598.8h1.8v2.0h-1.8zM280.0,605.1h2.2v2.0h-2.2zM284.2,605.1h1.8v2.0h-1.8zM288.5,605.1h1.8v1.6h-1.8zM297.0,605.1h1.8v2.0h-1.8zM301.2,605.0h2.8v1.6h-2.8zM309.8,605.0h2.2v1.6h-2.2zM314.0,605.0h2.8v1.6h-2.8zM318.2,605.0h2.8v1.6h-2.8zM322.5,605.0h2.2v1.6h-2.2zM326.8,604.9h2.8v1.6h-2.8zM331.0,604.9h2.8v1.6h-2.8zM335.2,604.9h2.8v2.0h-2.8zM339.5,604.9h2.2v1.6h-2.2zM343.8,604.9h1.8v1.6h-1.8zM348.0,604.8h2.2v1.6h-2.2zM352.2,604.8h1.8v1.6h-1.8zM356.5,604.8h1.8v2.0h-1.8zM360.8,604.8h1.8v2.0h-1.8zM365.0,604.8h1.8v1.6h-1.8zM373.5,604.7h2.8v1.6h-2.8zM382.0,604.7h1.8v2.0h-1.8zM390.5,604.7h1.8v1.6h-1.8zM394.8,604.7h1.8v1.6h-1.8zM407.5,604.6h2.8v1.6h-2.8zM411.8,604.6h1.8v1.6h-1.8zM420.2,604.5h1.8v1.6h-1.8zM428.8,604.5h2.2v1.6h-2.2zM433.0,604.5h2.8v1.6h-2.8zM458.5,604.4h2.2v2.0h-2.2zM462.8,604.4h1.8v1.6h-1.8zM539.2,604.0h2.8v1.6h-2.8zM552.0,604.0h2.8v2.0h-2.8zM590.2,603.8h2.2v1.6h-2.2zM628.5,603.7h2.2v1.6h-2.2zM662.5,603.5h2.8v2.0h-2.8zM688.0,603.4h2.8v2.0h-2.8zM739.0,603.2h2.8v1.6h-2.8zM743.2,603.2h2.2v2.0h-2.2zM756.0,603.1h2.2v1.6h-2.2zM777.2,603.0h2.8v1.6h-2.8zM280.0,609.3h2.2v1.6h-2.2zM284.2,609.3h1.8v2.0h-1.8zM292.8,609.3h2.2v2.0h-2.2zM297.0,609.3h2.8v1.6h-2.8zM309.8,609.2h1.8v1.6h-1.8zM318.2,609.2h1.8v2.0h-1.8zM322.5,609.2h2.8v2.0h-2.8zM326.8,609.1h2.8v1.6h-2.8zM335.2,609.1h2.8v2.0h-2.8zM339.5,609.1h2.2v2.0h-2.2zM343.8,609.1h2.8v2.0h-2.8zM348.0,609.0h2.2v2.0h-2.2zM352.2,609.0h2.8v2.0h-2.8zM365.0,609.0h2.8v2.0h-2.8zM369.2,609.0h2.8v1.6h-2.8zM373.5,608.9h2.8v1.6h-2.8zM377.8,608.9h2.2v2.0h-2.2zM390.5,608.9h2.8v2.0h-2.8zM394.8,608.9h2.2v2.0h-2.2zM399.0,608.8h2.2v1.6h-2.2zM403.2,608.8h2.8v1.6h-2.8zM411.8,608.8h2.8v2.0h-2.8zM420.2,608.7h2.8v1.6h-2.8zM424.5,608.7h2.2v1.6h-2.2zM437.2,608.7h2.8v2.0h-2.8zM501.0,608.4h2.2v2.0h-2.2zM564.8,608.1h2.8v2.0h-2.8zM577.5,608.1h2.2v1.6h-2.2zM581.8,608.1h2.8v2.0h-2.8zM598.8,608.0h2.2v2.0h-2.2zM620.0,607.9h2.2v1.6h-2.2zM624.2,607.9h2.8v2.0h-2.8zM645.5,607.8h2.8v1.6h-2.8zM666.8,607.7h2.2v1.6h-2.2zM722.0,607.5h1.8v2.0h-1.8zM734.8,607.4h2.2v1.6h-2.2zM743.2,607.4h1.8v1.6h-1.8zM777.2,607.2h2.8v1.6h-2.8z"/>
</svg>
<div class="t b" id="n5" style="left:68.73px;top:35.51px;font-size:36px;transform:scale(0.9849,1.0560);-webkit-text-stroke:1.7px #000">5</div>
<div class="t b" id="n8" style="left:63.54px;top:274.26px;font-size:36px;transform:scale(0.9347,0.9862);-webkit-text-stroke:1.7px #000">8</div>
<div class="t b" id="n2" style="left:992.75px;top:0.65px;font-size:36px;transform:scale(1.0101,1.0579);-webkit-text-stroke:1.7px #000">2</div>
<div class="t b" id="n1" style="left:998.31px;top:143.80px;font-size:36px;transform:scale(1.0630,0.9786);-webkit-text-stroke:1.7px #000">1</div>
<div class="t b" id="n7" style="left:1002.21px;top:442.83px;font-size:36px;transform:scale(1.0822,0.9835);-webkit-text-stroke:1.7px #000">7</div>
<div class="t b" id="l1" style="left:427.29px;top:156.80px;font-size:35px;transform:scale(0.9878,1.0160);-webkit-text-stroke:1.8px #000;letter-spacing:-0.2px">На вход</div>
<div class="t b" id="l2" style="left:427.18px;top:198.07px;font-size:35px;transform:scale(0.9865,0.9593);-webkit-text-stroke:1.8px #000;letter-spacing:-0.2px">радиотермометра</div>
<div id="caption"><span class="t" id="fig" style="left:484.34px;top:751.17px;font-size:65px;transform:scale(1.0117,1.0571);-webkit-text-stroke:0.6px #000">ФИГ</span><span class="t" id="figd" style="left:617.25px;top:758.71px;font-size:65px;transform:scale(0.9423,0.9060);-webkit-text-stroke:0.6px #000">.</span><span class="t" id="fig1" style="left:634.72px;top:751.06px;font-size:65px;transform:scale(1.1076,1.0571);-webkit-text-stroke:0.6px #000">1</span></div>
<div class="cv" style="left:997px;top:167.3px;width:8.7px;height:9.5px"></div><div class="cv" style="left:1013.3px;top:167.3px;width:9px;height:9.5px"></div>
<div class="cv" style="left:636px;top:802px;width:17px;height:10px"></div><div class="cv" style="left:660px;top:802px;width:16px;height:10px"></div>
</body></html>
